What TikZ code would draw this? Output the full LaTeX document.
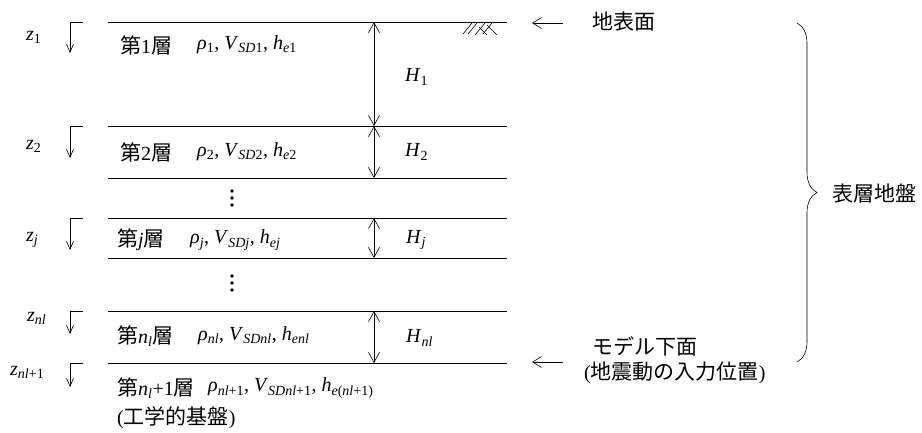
\documentclass[tikz,border=0pt]{standalone}
\usepackage{fontspec}
\setmainfont{Liberation Serif}
\newfontfamily\jp[Scale=1.05]{Noto Sans CJK JP}
\usetikzlibrary{arrows.meta,decorations.pathreplacing}
\newcommand\J[1]{{\jp #1}}
\newcommand\I[1]{\textit{#1}}
\newcommand\sub[1]{\textsubscript{#1}}
\begin{document}
\begin{tikzpicture}[x=1pt,y=-1pt,
  layerline/.style={line width=0.9pt},
  dimarrow/.style={line width=0.6pt,{Straight Barb[length=10pt,width=11pt]}-{Straight Barb[length=10pt,width=11pt]}},
  zarrow/.style={line width=0.6pt,-{Straight Barb[length=8pt,width=7pt]}},
  larrow/.style={line width=0.6pt,-{Straight Barb[length=9pt,width=11pt]}},
  lbl/.style={inner sep=0pt,anchor=west,font=\fontsize{20}{24}\selectfont},
  hatch/.style={line width=0.6pt}
]
\useasboundingbox (0,0) rectangle (922,432);
% layer boundary lines
\foreach \n/\y in {0/22,1/126,2/178,3/218,4/258,5/311,6/363}{
  \coordinate (la\n) at (108,\y);
  \coordinate (lb\n) at (507,\y);
  \draw[layerline] (la\n) -- (lb\n);
}
% ground hatch
\draw[hatch] (472,23) -- (463,34);
\draw[hatch] (477,23) -- (468,34);
\draw[hatch] (485,23) -- (475,35);
\draw[hatch] (479,27) -- (487,35);
\draw[hatch] (492,23) -- (483,34);
\draw[hatch] (487,25) -- (497,35);
% thickness arrows
\foreach \a/\b/\n in {22/126/1,126/178/2,218/258/3,311/363/4}{
  \coordinate (ht\n) at (374,\a);
  \coordinate (hb\n) at (374,\b);
  \draw[dimarrow] (ht\n) -- (hb\n);
}
\node[lbl] (H1) at (405,77) {\I{H}\sub{1}};
\node[lbl] (H2) at (405,152) {\I{H}\sub{2}};
\node[lbl] (Hj) at (406,240) {\I{H}\sub{\I{j}}};
\node[lbl] (Hnl) at (406,338) {\I{H}\sub{\I{nl}}};
% depth arrows
\foreach \t/\b/\n in {22/53/1,126/158/2,218/250/3,311/334/4,363/387/5}{
  \coordinate (za\n) at (83,\t);
  \coordinate (zc\n) at (70,\t);
  \coordinate (zb\n) at (70,\b);
  \draw[zarrow] (za\n) -- (zc\n) -- (zb\n);
}
\node[lbl] (z1) at (26,37) {\I{z}\sub{1}};
\node[lbl] (z2) at (26,146) {\I{z}\sub{2}};
\node[lbl] (zj) at (26,240) {\I{z}\sub{\I{j}}};
\node[lbl] (znl) at (27,318) {\I{z}\sub{\I{nl}}};
\node[lbl] (znl1) at (10,372) {\I{z}\sub{\I{nl}+1}};
% layer labels
\node[lbl] (n1) at (120,45) {\J{第}1\J{層}};
\node[lbl] (p1) at (197,45) {\I{ρ}\sub{1}, \I{V}\sub{\I{SD}1}, \I{h}\sub{\I{e}1}};
\node[lbl] (n2) at (120,152) {\J{第}2\J{層}};
\node[lbl] (p2) at (197,152) {\I{ρ}\sub{2}, \I{V}\sub{\I{SD}2}, \I{h}\sub{\I{e}2}};
\node[lbl] (nj) at (117,240) {\J{第}\I{j}\J{層}};
\node[lbl] (pj) at (190,240) {\I{ρ}\sub{\I{j}}, \I{V}\sub{\I{SDj}}, \I{h}\sub{\I{ej}}};
\node[lbl] (nn) at (117,336) {\J{第}\I{n}\sub{\I{l}}\J{層}};
\node[lbl] (pn) at (198,336) {\I{ρ}\sub{\I{nl}}, \I{V}\sub{\I{SDnl}}, \I{h}\sub{\I{enl}}};
\node[lbl] (nn1) at (117,388) {\J{第}\I{n}\sub{\I{l}}+1\J{層}};
\node[lbl] (pn1) at (208,388) {\I{ρ}\sub{\I{nl}+1}, \I{V}\sub{\I{SDnl}+1}, \I{h}\sub{\I{e}(\I{nl}+1)}};
\node[lbl] (base) at (117,418) {(\J{工学的基盤})};
% vertical dots
\foreach \y in {191,198,205,276,283,290}{
  \fill (232,\y) circle (1.9);
}
% right-hand labels
\coordinate (ra1) at (563,23);
\coordinate (rb1) at (532,23);
\draw[larrow] (ra1) -- (rb1);
\coordinate (ra2) at (563,362);
\coordinate (rb2) at (532,362);
\draw[larrow] (ra2) -- (rb2);
\node[lbl] (surf) at (592,22) {\J{地表面}};
\node[lbl] (mb1) at (592,346) {\J{モデル下面}};
\node[lbl] (mb2) at (584,373) {(\J{地震動の入力位置})};
\coordinate (bt) at (797,23);
\coordinate (bb) at (797,362);
\draw[line width=0.6pt,decorate,decoration={brace,amplitude=20pt}] (bt) -- (bb);
\node[lbl] (surfl) at (832,193) {\J{表層地盤}};
\end{tikzpicture}
\end{document}
